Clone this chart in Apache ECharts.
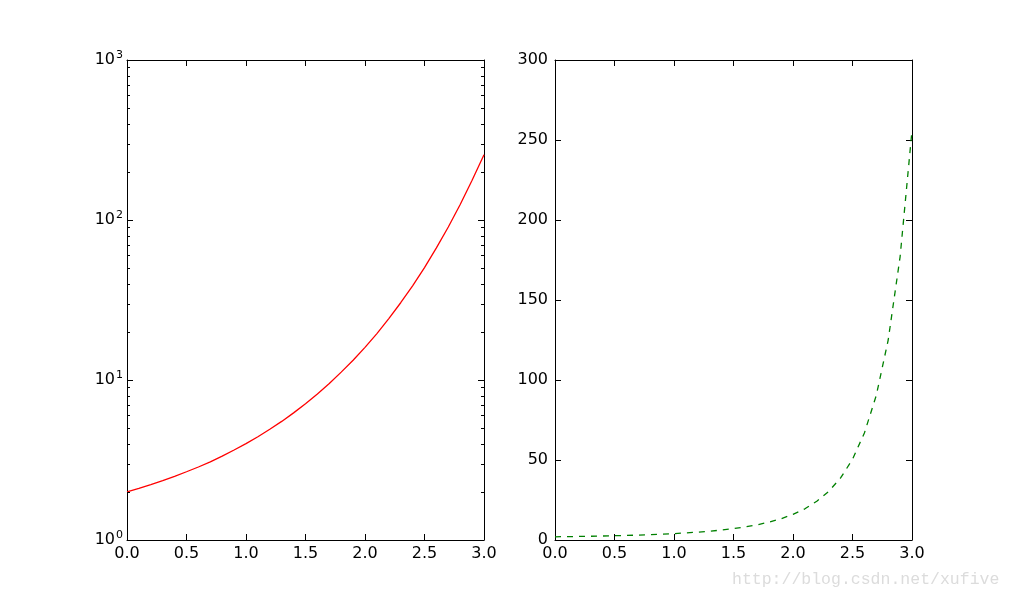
<!DOCTYPE html>
<html>
<head>
<meta charset="utf-8">
<script src="https://cdn.jsdelivr.net/npm/echarts@6/dist/echarts.min.js"></script>
<style>
html,body{margin:0;padding:0;background:#fff;}
#chart{width:1013px;height:600px;}
</style>
</head>
<body>
<div id="chart"></div>
<script>
// x positions and values
var xs = [0.0,0.1,0.2,0.3,0.4,0.5,0.6,0.7,0.8,0.9,1.0,1.1,1.2,1.3,1.4,1.5,1.6,1.7,1.8,1.9,2.0,2.1,2.2,2.3,2.4,2.5,2.6,2.7,2.8,2.9,3.0];
var ys = [2.0,2.1,2.22,2.35,2.5,2.67,2.86,3.08,3.34,3.65,4.0,4.42,4.92,5.51,6.23,7.1,8.18,9.5,11.2,13.3,16.0,19.5,24.2,30.4,38.8,50.4,66.9,90.4,125,177,256];
var xTicks = [0.0,0.5,1.0,1.5,2.0,2.5,3.0];
var logTicks = [1,10,100,1000];
var linTicks = [0,50,100,150,200,250,300];
var minorLog = [2,3,4,5,6,7,8,9,20,30,40,50,60,70,80,90,200,300,400,500,600,700,800,900];

var FONT = 'DejaVu Sans';
var pts = xs.map(function(x,i){ return [x, ys[i]]; });

function xAxisDef(gi, pos, labels){
  return {
    type:'value', gridIndex:gi, position:pos, min:xTicks[0], max:xTicks[xTicks.length-1], interval:0.5,
    axisLine:{show:true, onZero:false, lineStyle:{color:'#000', width:1}},
    axisTick:{show:true, inside:true, length:6, lineStyle:{color:'#000', width:1}},
    axisLabel:{show:labels, color:'#000', fontFamily:FONT, fontSize:16, margin:6,
      formatter:function(v){ return v.toFixed(1); }},
    splitLine:{show:false}
  };
}
function logAxisDef(gi, pos, labels){
  return {
    type:'log', logBase:10, gridIndex:gi, position:pos, min:logTicks[0], max:logTicks[logTicks.length-1],
    axisLine:{show:true, onZero:false, lineStyle:{color:'#000', width:1}},
    axisTick:{show:true, inside:true, length:6, lineStyle:{color:'#000', width:1}},
    axisLabel:{show:labels, color:'#000', margin:4,
      formatter:function(v){ var e = Math.round(Math.log10(v)); return '{b|10}{s|' + e + '}'; },
      rich:{ b:{fontFamily:FONT, fontSize:16, color:'#000'},
             s:{fontFamily:FONT, fontSize:11, color:'#000', padding:[0,0,9,1]} }},
    splitLine:{show:false}, minorTick:{show:false}
  };
}
function linAxisDef(gi, pos, labels){
  return {
    type:'value', gridIndex:gi, position:pos, min:linTicks[0], max:linTicks[linTicks.length-1], interval:50,
    axisLine:{show:true, onZero:false, lineStyle:{color:'#000', width:1}},
    axisTick:{show:true, inside:true, length:6, lineStyle:{color:'#000', width:1}},
    axisLabel:{show:labels, color:'#000', fontFamily:FONT, fontSize:16, margin:7},
    splitLine:{show:false}
  };
}

var chart = echarts.init(document.getElementById('chart'), null, {renderer:'canvas'});
chart.setOption({
  backgroundColor:'#fff',
  animation:false,
  grid:[
    {left:127, top:60, width:357, height:480},
    {left:555, top:60, width:357, height:480}
  ],
  xAxis:[ xAxisDef(0,'bottom',true), xAxisDef(0,'top',false), xAxisDef(1,'bottom',true), xAxisDef(1,'top',false) ],
  yAxis:[ logAxisDef(0,'left',true), logAxisDef(0,'right',false), linAxisDef(1,'left',true), linAxisDef(1,'right',false) ],
  series:[
    {type:'line', xAxisIndex:0, yAxisIndex:0, data:pts, showSymbol:false, smooth:false,
     lineStyle:{color:'#ff0000', width:1.3}},
    {type:'line', xAxisIndex:2, yAxisIndex:2, data:pts, showSymbol:false, smooth:false,
     lineStyle:{color:'#008000', width:1.3, type:[6,6]}},
    {type:'custom', xAxisIndex:0, yAxisIndex:0, silent:true, clip:false, z:10,
     data:minorLog.map(function(v){ return [0, v]; }),
     renderItem:function(params, api){
       var y = Math.round(api.coord([0, api.value(1)])[1]) + 0.5;
       var cs = params.coordSys;
       return {type:'group', children:[
         {type:'line', shape:{x1:cs.x, y1:y, x2:cs.x+3, y2:y}, style:{stroke:'#000', lineWidth:1}},
         {type:'line', shape:{x1:cs.x+cs.width-3, y1:y, x2:cs.x+cs.width, y2:y}, style:{stroke:'#000', lineWidth:1}}
       ]};
     }}
  ],
  graphic:[
    {type:'text', left:732, top:571, style:{text:'http://blog.csdn.net/xufive', fill:'#dcdcdc',
      font:'16.5px "Liberation Mono"'}}
  ]
});
</script>
</body>
</html>
